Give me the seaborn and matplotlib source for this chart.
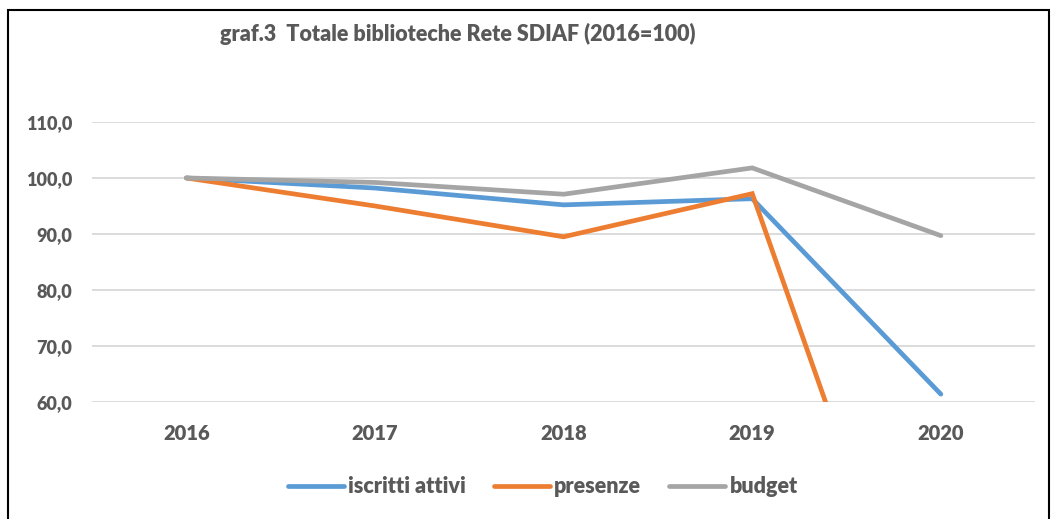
import seaborn as sns
import matplotlib.pyplot as plt
import pandas as pd
from matplotlib.patches import Rectangle
from matplotlib.lines import Line2D

anni = ["2016", "2017", "2018", "2019", "2020"]
iscritti = [100.0, 98.2, 95.2, 96.3, 61.4]
presenze = [100.0, 95.0, 89.5, 97.2, 1.5]
budget = [100.0, 99.2, 97.1, 101.8, 89.7]
serie = ["iscritti attivi", "presenze", "budget"]
colori = ["#5B9BD5", "#ED7D31", "#A5A5A5"]

df = pd.DataFrame({"anno": anni * 3,
                   "valore": iscritti + presenze + budget,
                   "serie": [serie[0]] * 5 + [serie[1]] * 5 + [serie[2]] * 5})

sns.set_style("white")
plt.rcParams['font.family'] = ['Lato', 'DejaVu Sans']
grigio = "#595959"

fig = plt.figure(figsize=(10.52, 5.19), dpi=100)
ax = fig.add_axes([0.0875, 0.2254, 0.8965, 0.5396])

sns.lineplot(data=df, x="anno", y="valore", hue="serie", palette=colori,
             linewidth=3.4, ax=ax, legend=False, sort=False)
for ln in ax.lines:
    ln.set_solid_capstyle("round")
    ln.set_solid_joinstyle("miter")

ax.set_xlim(-0.5, 4.5)
ax.set_ylim(60, 110)
ax.set_yticks([60, 70, 80, 90, 100, 110])
ax.set_yticklabels(["60,0", "70,0", "80,0", "90,0", "100,0", "110,0"])
ax.grid(axis="y", color="#D9D9D9", linewidth=1.3)
ax.set_axisbelow(True)
for s in ax.spines.values():
    s.set_visible(False)
ax.tick_params(axis="x", length=0, labelsize=14.5, labelcolor=grigio, pad=16)
ax.tick_params(axis="y", length=0, labelsize=13, labelcolor=grigio, pad=14)
for t in ax.get_xticklabels() + ax.get_yticklabels():
    t.set_fontweight("heavy")
ax.set_xlabel("")
ax.set_ylabel("")

fig.text(0.435, 0.935, "graf.3  Totale biblioteche Rete SDIAF (2016=100)",
         ha="center", va="center", fontsize=15.5, fontweight="heavy", color=grigio)

handles = [Line2D([], [], color=c, linewidth=3.4, solid_capstyle="round") for c in colori]
leg = fig.legend(handles, serie, loc="center", bbox_to_anchor=(0.516, 0.062), ncol=3,
                 frameon=False, fontsize=15.5, handlelength=2.6, columnspacing=1.3,
                 handletextpad=0.2)
for t in leg.get_texts():
    t.set_color(grigio)
    t.set_fontweight("heavy")

fig.add_artist(Rectangle((0.008, -0.01), 0.989, 0.991, fill=False, linewidth=1.5,
                         edgecolor="black", transform=fig.transFigure))

fig.savefig("out.png", dpi=100)
